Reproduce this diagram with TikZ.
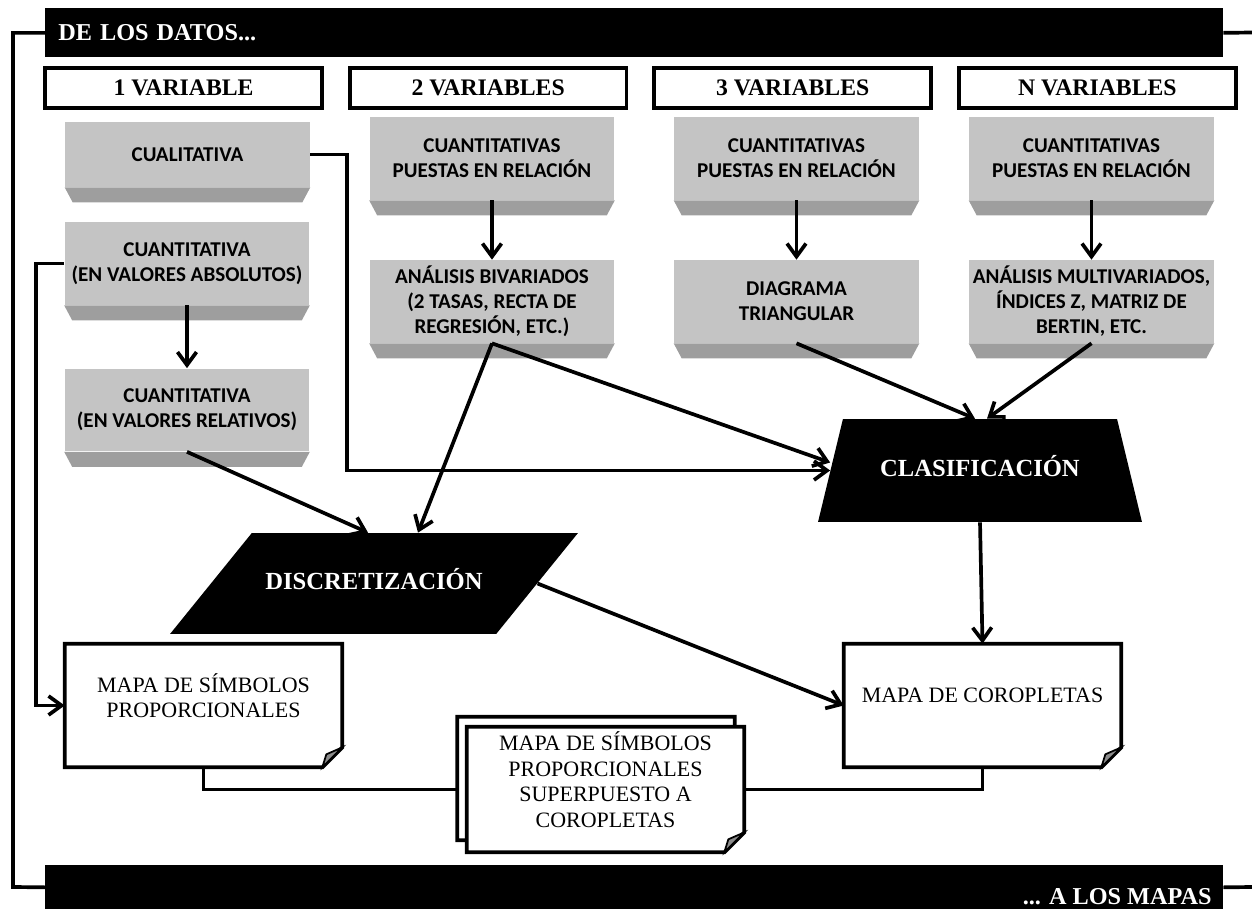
\documentclass[tikz,border=0pt]{standalone}
\usepackage{fontspec}
\setmainfont{Liberation Serif}
\newfontfamily\slabfont{Carlito}
\usetikzlibrary{positioning,shapes.geometric,arrows.meta}
\definecolor{slabface}{RGB}{196,196,196}
\definecolor{slabside}{RGB}{158,158,158}
\definecolor{foldgray}{RGB}{140,140,140}

\begin{document}
\begin{tikzpicture}[x=0.02cm, y=-0.02cm]
    \tikzstyle{every node} = [align=center]
    \tikzstyle{bar} = [fill=black, text=white, inner sep=0pt, minimum width=23.56cm, font=\fontsize{13.8}{16}\selectfont\bfseries]
    \tikzstyle{varbox} = [draw, line width=2.1pt, minimum width=5.54cm, minimum height=0.8cm, font=\fontsize{13.5}{16}\selectfont\bfseries]
    \tikzstyle{slab} = [fill=slabface, inner sep=0pt, minimum width=4.9cm, minimum height=1.66cm, font=\slabfont\fontsize{12}{14.2}\selectfont\bfseries]
    \tikzstyle{side} = [fill=slabside]
    \tikzstyle{blackbox} = [trapezium, trapezium stretches body, fill=black, text=white, text height=0.35cm, text depth=0.1cm, font=\fontsize{14}{16}\selectfont\bfseries]
    \tikzstyle{docframe} = [minimum width=5.54cm, minimum height=2.46cm, inner sep=0pt]
    \tikzstyle{doc} = [draw, fill=white, line width=2.1pt, line join=miter]
    \tikzstyle{fold} = [fill=foldgray, draw, line width=1pt]
    \tikzstyle{doctext} = [font=\fontsize{12.5}{14.6}\selectfont]
    \tikzstyle{conn} = [line width=2.1pt]
    \tikzstyle{arr} = [conn, -{Straight Barb[length=2.6mm,width=3.8mm]}]

    \useasboundingbox (0,0) rectangle (1252,909);

    % frame bars
    \node [bar, anchor=north west, minimum height=0.98cm, text width=23.04cm, inner xsep=0.26cm, align=left] (datos) at (45,8) {DE LOS DATOS...};
    \node [bar, anchor=north west, minimum height=0.88cm] (mapas) at (45,865) {};
    \node [bar, minimum width=0pt, anchor=east] (mapastxt) at (1212,897) {... A LOS MAPAS};
    \coordinate (rimT) at (1252,32.5);
    \coordinate (rimB) at (1252,887);
    \draw [conn] (datos.west) -| (13,887) -- (mapas.west);
    \draw [conn] (datos.east) -- (rimT);
    \draw [conn] (mapas.east) -- (rimB);

    % column heads
    \node [varbox] (v1) at (183.5,88) {1 VARIABLE};
    \node [varbox, right=0.48cm of v1] (v2) {2 VARIABLES};
    \node [varbox, right=0.48cm of v2] (v3) {3 VARIABLES};
    \node [varbox, right=0.48cm of v3] (v4) {N VARIABLES};

    % data boxes
    \node [slab, minimum height=1.3cm] (cual) at (187.5,154.5) {CUALITATIVA};
    \node [slab] (abs) at (187,263.5) {CUANTITATIVA\\(EN VALORES ABSOLUTOS)};
    \node [slab] (rel) at (187,410) {CUANTITATIVA\\(EN VALORES RELATIVOS)};
    \node [slab] (c2a) at (492,158.5) {CUANTITATIVAS\\PUESTAS EN RELACIÓN};
    \node [slab] (c3a) at (796.5,158.5) {CUANTITATIVAS\\PUESTAS EN RELACIÓN};
    \node [slab] (c4a) at (1091.5,158.5) {CUANTITATIVAS\\PUESTAS EN RELACIÓN};
    \node [slab] (c2b) at (492,301.5) {ANÁLISIS BIVARIADOS\\(2 TASAS, RECTA DE\\REGRESIÓN, ETC.)};
    \node [slab] (c3b) at (796.5,301.5) {DIAGRAMA\\TRIANGULAR};
    \node [slab] (c4b) at (1091.5,301.5) {ANÁLISIS MULTIVARIADOS,\\ÍNDICES Z, MATRIZ DE\\BERTIN, ETC.};
    \foreach \s in {cual,abs,rel,c2a,c2b,c3a,c3b,c4a,c4b}
        \fill [side] (\s.south west) -- (\s.south east) -- ([shift={(-8,15)}]\s.south east) -- ([shift={(8,15)}]\s.south west) -- cycle;

    % treatments
    \node [blackbox, trapezium left angle=76.4, trapezium right angle=76.4, inner ysep=0.805cm, minimum width=6.48cm] (clas) at (980,470.5) {CLASIFICACIÓN};
    \node [blackbox, trapezium left angle=51, trapezium right angle=129, inner ysep=0.785cm, minimum width=8.16cm] (disc) at (374,583.5) {DISCRETIZACIÓN};

    % maps
    \node [docframe] (sym) at (203.5,705.5) {};
    \node [docframe] (cor) at (982.5,705.5) {};
    \node [docframe] (back) at (596,778.5) {};
    \node [docframe, minimum height=2.5cm] (front) at (605.5,789.5) {};

    \draw [conn] (sym.south) |- (front.west);
    \draw [conn] (cor.south) |- (front.east);

    \foreach \d in {sym,cor,back,front} {
        \draw [doc] (\d.north west) -- (\d.north east) -- ([yshift=0.4cm]\d.south east) -- ([xshift=-0.4cm]\d.south east) -- (\d.south west) -- cycle;
        \draw [fold] ([yshift=0.4cm]\d.south east) -- ([xshift=-0.4cm]\d.south east) -- ([shift={(-16,-13)}]\d.south east) -- cycle;
    }
    \node [doctext] (symtxt) at ([yshift=0.2cm]sym.center) {MAPA DE SÍMBOLOS\\PROPORCIONALES};
    \node [doctext] (cortxt) at ([yshift=0.2cm]cor.center) {MAPA DE COROPLETAS};
    \node [doctext] (fronttxt) at ([yshift=0.2cm]front.center) {MAPA DE SÍMBOLOS\\PROPORCIONALES\\SUPERPUESTO A\\COROPLETAS};

    % connectors
    \draw [arr] (abs.south) -- (rel.north);
    \draw [arr] (c2a.south) -- (c2b.north);
    \draw [arr] (c3a.south) -- (c3b.north);
    \draw [arr] (c4a.south) -- (c4b.north);
    \draw [arr] (cual.east) -- ++(37,0) |- (clas.west);
    \draw [arr] (abs.west) -- ++(-28,0) |- (sym.west);
    \draw [arr] (rel.south) -- ([xshift=-0.12cm]disc.north);
    \draw [arr] (c2b.south) -- ([xshift=0.88cm]disc.north);
    \draw [arr] (c2b.south) -- ([yshift=0.16cm]clas.west);
    \draw [arr] (c3b.south) -- ([xshift=-0.1cm]clas.north);
    \draw [arr] (c4b.south) -- ([xshift=0.14cm]clas.north);
    \draw [arr] (clas.south) -- (cor.north);
    \draw [arr] (disc.east) -- (cor.west);
\end{tikzpicture}
\end{document}
